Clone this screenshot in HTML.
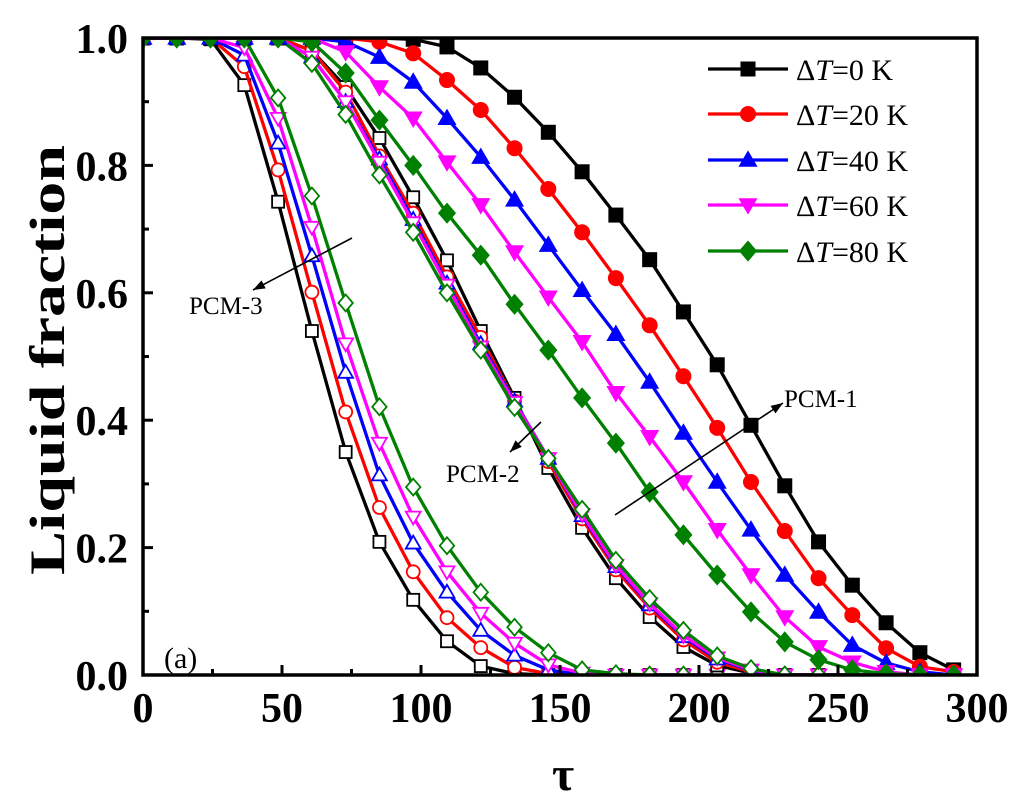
<!DOCTYPE html>
<html><head><meta charset="utf-8"><style>
html,body{margin:0;padding:0;background:#fff;}
svg{display:block;font-family:"Liberation Serif",serif;}
</style></head><body>
<svg id="chart" width="1024" height="809" viewBox="0 0 1024 809" xmlns="http://www.w3.org/2000/svg">
<defs><clipPath id="plotclip"><rect x="143" y="38" width="834" height="638"/></clipPath></defs>
<g id="plot" clip-path="url(#plotclip)"></g>
<g id="axes"></g>
<g id="legend"></g>
<g id="annot"></g>
</svg>
<script>
const tauStep = 12.15;
const xTicks = [0,50,100,150,200,250,300];
const yTicks = [0.0,0.2,0.4,0.6,0.8,1.0];
const yTickLabels = ["0.0","0.2","0.4","0.6","0.8","1.0"];
const seriesNames = ["ΔT=0 K","ΔT=20 K","ΔT=40 K","ΔT=60 K","ΔT=80 K"];
const colors = ["#000000","#ff0000","#0000ff","#ff00ff","#008000"];
const markers = ["square","circle","up","down","diamond"];
// PCM-1 (filled markers)
const pcm1_0 = [1,1,1,1,1,1,1,1,0.998,0.986,0.953,0.907,0.852,0.79,0.722,0.652,0.57,0.487,0.392,0.297,0.209,0.141,0.082,0.035,0.008];
const pcm1_20 = [1,1,1,1,1,1,1,0.994,0.976,0.934,0.887,0.827,0.763,0.695,0.623,0.549,0.469,0.388,0.303,0.226,0.152,0.094,0.042,0.013,0.005];
const pcm1_40 = [1,1,1,1,1,1,0.994,0.97,0.931,0.874,0.813,0.746,0.675,0.604,0.535,0.46,0.38,0.303,0.228,0.157,0.099,0.047,0.019,0.005,0];
const pcm1_60 = [1,1,1,1,1,1,0.978,0.923,0.874,0.805,0.738,0.664,0.593,0.523,0.443,0.374,0.303,0.228,0.157,0.091,0.044,0.02,0.005,0,0];
const pcm1_80 = [1,1,1,1,1,0.994,0.945,0.871,0.8,0.725,0.659,0.582,0.51,0.435,0.364,0.287,0.22,0.157,0.099,0.052,0.024,0.008,0.002,0,0];
// PCM-2
const pcm2_0 = [1,1,1,1,1,0.98,0.923,0.843,0.75,0.651,0.54,0.435,0.325,0.231,0.152,0.091,0.044,0.015,0.003,0,0,0,0,0,0];
const pcm2_20 = [1,1,1,1,1,0.98,0.915,0.815,0.725,0.625,0.53,0.43,0.335,0.245,0.165,0.105,0.055,0.02,0.005,0,0,0,0,0,0];
const pcm2_40 = [1,1,1,1,1,0.97,0.9,0.81,0.715,0.615,0.52,0.43,0.34,0.25,0.17,0.11,0.06,0.025,0.007,0,0,0,0,0,0];
const pcm2_60 = [1,1,1,1,1,0.97,0.9,0.805,0.71,0.612,0.515,0.428,0.34,0.252,0.172,0.112,0.062,0.027,0.008,0,0,0,0,0,0];
const pcm2_80 = [1,1,1,1,1,0.96,0.88,0.785,0.695,0.6,0.51,0.42,0.34,0.26,0.18,0.12,0.07,0.03,0.01,0,0,0,0,0,0];
// PCM-3 (open markers)
const pcm3_0 = [1,1,0.998,0.926,0.743,0.54,0.35,0.209,0.118,0.053,0.014,0.002,0,0,0,0,0,0,0,0,0,0,0,0,0];
const pcm3_20 = [1,1,1,0.955,0.793,0.601,0.413,0.263,0.162,0.09,0.043,0.012,0.002,0,0,0,0,0,0,0,0,0,0,0,0];
const pcm3_40 = [1,1,1,0.973,0.835,0.658,0.475,0.314,0.207,0.13,0.07,0.031,0.008,0,0,0,0,0,0,0,0,0,0,0,0];
const pcm3_60 = [1,1,1,0.985,0.874,0.703,0.52,0.364,0.248,0.162,0.097,0.05,0.016,0.003,0,0,0,0,0,0,0,0,0,0,0];
const pcm3_80 = [1,1,1,1,0.906,0.752,0.584,0.421,0.295,0.203,0.13,0.075,0.035,0.008,0.002,0,0,0,0,0,0,0,0,0,0];

const NS="http://www.w3.org/2000/svg";
const X0=143,X1=977,Y0=675,Y1=38;
function xs(t){return X0+(t/300)*(X1-X0);}
function ys(v){return Y0-v*(Y0-Y1);}
function mk(tag,attrs,parent){const e=document.createElementNS(NS,tag);for(const k in attrs)e.setAttribute(k,attrs[k]);parent.appendChild(e);return e;}
function marker(type,cx,cy,s,color,filled,parent){
  const fill=filled?color:"#fff";const st={fill:fill,stroke:color,"stroke-width":filled?1:1.8};
  let e;
  if(type==="square"){e=mk("rect",Object.assign({x:cx-s/2,y:cy-s/2,width:s,height:s},st),parent);}
  else if(type==="circle"){e=mk("circle",Object.assign({cx:cx,cy:cy,r:s/2+0.5},st),parent);}
  else if(type==="up"){e=mk("polygon",Object.assign({points:`${cx},${cy-s*0.62} ${cx-s*0.62},${cy+s*0.45} ${cx+s*0.62},${cy+s*0.45}`},st),parent);}
  else if(type==="down"){e=mk("polygon",Object.assign({points:`${cx},${cy+s*0.62} ${cx-s*0.62},${cy-s*0.45} ${cx+s*0.62},${cy-s*0.45}`},st),parent);}
  else {e=mk("polygon",Object.assign({points:`${cx},${cy-s*0.7} ${cx+s*0.6},${cy} ${cx},${cy+s*0.7} ${cx-s*0.6},${cy}`},st),parent);}
  return e;
}
const plot=document.getElementById("plot");
const groups=[
  {name:"pcm3",data:[pcm3_0,pcm3_20,pcm3_40,pcm3_60,pcm3_80],filled:false,size:12},
  {name:"pcm2",data:[pcm2_0,pcm2_20,pcm2_40,pcm2_60,pcm2_80],filled:false,size:12},
  {name:"pcm1",data:[pcm1_0,pcm1_20,pcm1_40,pcm1_60,pcm1_80],filled:true,size:14}
];
groups.forEach(g=>{
  g.data.forEach((arr,si)=>{
    const sg=mk("g",{},plot);
    
    
    const pts=arr.map((v,i)=>xs(i*tauStep).toFixed(1)+","+ys(v).toFixed(1)).join(" ");
    const pl=mk("polyline",{points:pts,fill:"none",stroke:colors[si],"stroke-width":3.3,"stroke-linejoin":"round"},sg);
    
    
    arr.forEach((v,i)=>{
      const m=marker(markers[si],xs(i*tauStep),ys(v),g.size,colors[si],g.filled,sg);
      
      
    });
  });
});
// axes
const ax=document.getElementById("axes");
mk("rect",{x:X0,y:Y1,width:X1-X0,height:Y0-Y1,fill:"none",stroke:"#000","stroke-width":3.5},ax);
xTicks.forEach((t,i)=>{
  const x=xs(t);
  mk("line",{x1:x,y1:Y0,x2:x,y2:Y0-10,stroke:"#000","stroke-width":3},ax);
  if(i<xTicks.length-1){const xm=xs(t+25);mk("line",{x1:xm,y1:Y0,x2:xm,y2:Y0-6,stroke:"#000","stroke-width":3},ax);}
  const tx=mk("text",{x:x,y:722,"text-anchor":"middle","font-size":42,"font-weight":"bold"},ax);
  tx.textContent=t;
  
  
});
yTicks.forEach((v,i)=>{
  const y=ys(v);
  mk("line",{x1:X0,y1:y,x2:X0+10,y2:y,stroke:"#000","stroke-width":3},ax);
  if(i<yTicks.length-1){const ym=ys(v+0.1);mk("line",{x1:X0,y1:ym,x2:X0+6,y2:ym,stroke:"#000","stroke-width":3},ax);}
  const tx=mk("text",{x:128,y:y+15,"text-anchor":"end","font-size":42,"font-weight":"bold"},ax);
  tx.textContent=yTickLabels[i];
  
  
});
const svg=document.getElementById("chart");
const yt=mk("text",{x:0,y:0,transform:"translate(64,360) rotate(-90)","text-anchor":"middle","font-size":50,"font-weight":"bold",textLength:430,lengthAdjust:"spacingAndGlyphs"},svg);
yt.textContent="Liquid fraction";


const xt=mk("text",{x:563,y:790,"text-anchor":"middle","font-size":48,"font-weight":"bold"},svg);
xt.textContent="τ";


// legend
const lg=document.getElementById("legend");
const legY=[69,114,160,205,251];
seriesNames.forEach((n,i)=>{
  const e=mk("g",{},lg);
  
  
  mk("line",{x1:708,y1:legY[i],x2:788,y2:legY[i],stroke:colors[i],"stroke-width":3.3},e);
  marker(markers[i],748,legY[i],14,colors[i],true,e);
  const t=mk("text",{x:796,y:legY[i]+11,"font-size":30},e);
  const parts=n.split("T");
  t.innerHTML='Δ<tspan font-style="italic">T</tspan>'+parts[1];
});
// annotations
const an=document.getElementById("annot");
function arrow(x1,y1,x2,y2,name){
  const g=mk("g",{},an);
  
  
  mk("line",{x1:x1,y1:y1,x2:x2,y2:y2,stroke:"#000","stroke-width":1.6},g);
  const a=Math.atan2(y2-y1,x2-x1),L=12,W=4.5;
  const bx=x2-L*Math.cos(a),by=y2-L*Math.sin(a);
  mk("polygon",{points:`${x2},${y2} ${bx+W*Math.sin(a)},${by-W*Math.cos(a)} ${bx-W*Math.sin(a)},${by+W*Math.cos(a)}`,fill:"#000"},g);
}
arrow(352,238,253,290,"pcm3-arrow");
arrow(541,422,510,452,"pcm2-arrow");
arrow(615,515,783,403,"pcm1-arrow");
[["PCM-3",189,314,25],["PCM-2",446,482,25],["PCM-1",784,407,25],["(a)",164,668,30]].forEach(d=>{
  const t=mk("text",{x:d[1],y:d[2],"font-size":d[3]},an);
  t.textContent=d[0];
  
  
});
</script>
</body></html>
